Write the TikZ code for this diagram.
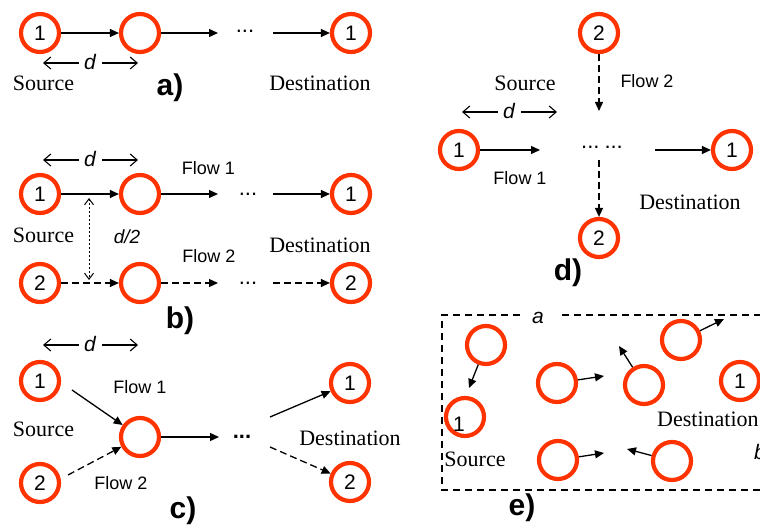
\documentclass[tikz,border=0pt]{standalone}
\usepackage{fontspec}
\setmainfont{Liberation Serif}
\newfontfamily\sansf{Liberation Sans}
\usetikzlibrary{arrows.meta}

\definecolor{nodered}{RGB}{255,51,0}
\newcommand\numfnt{\sansf\fontsize{21}{21}\selectfont}
\newcommand\sansfnt{\sansf\fontsize{18}{18}\selectfont}
\newcommand\dimfnt{\sansf\itshape\fontsize{21}{21}\selectfont}
\newcommand\dotfnt{\sansf\fontsize{22}{22}\selectfont}
\newcommand\serfnt{\rmfamily\fontsize{22}{22}\selectfont}
\newcommand\lblfnt{\sansf\bfseries\fontsize{30}{30}\selectfont}

\tikzset{
  nd/.style={circle, draw=nodered, line width=4.2pt, minimum size=38pt, inner sep=0pt, font=\numfnt},
  flow/.style={line width=1.3pt, -{Triangle[length=9pt,width=8pt]}},
  flowdash/.style={flow, dash pattern=on 7pt off 4pt},
  dimarr/.style={line width=1.1pt, -{Straight Barb[length=7pt,width=12pt]}},
  gapmark/.style={line width=1pt, dash pattern=on 2pt off 2pt,
    {Straight Barb[length=6pt,width=9pt]}-{Straight Barb[length=6pt,width=9pt]}},
  sanstext/.style={inner sep=0pt, font=\sansfnt},
  dimtext/.style={inner sep=0pt, font=\dimfnt},
  sertext/.style={inner sep=0pt, font=\serfnt},
  paneltag/.style={inner sep=0pt, font=\lblfnt},
  dotstext/.style={inner sep=0pt, anchor=base, font=\dotfnt},
  area/.style={line width=1.8pt, dash pattern=on 7pt off 5pt},
}

\begin{document}
\begin{tikzpicture}[x=1pt,y=-1pt]
\useasboundingbox (0,0) rectangle (760,529);
\clip (0,0) rectangle (760,529);

% ---------- a) single chain ----------
\node[nd] (a1) at (40,33) {1};
\node[nd] (a2) at (140,33) {};
\node[nd] (a3) at (351,33) {1};
\node[dotstext] (adots) at (245,33) {...};
\coordinate (aL) at (218,33);
\coordinate (aR) at (273,33);
\draw[flow] (a1) -- (a2);
\draw[flow] (a2) -- (aL);
\draw[flow] (aR) -- (a3);
\node[dimtext] (ad) at (90,62) {d};
\coordinate (adl) at (43,63);
\coordinate (adr) at (138,63);
\draw[dimarr] (ad.west) ++(-5,1) coordinate (adl0) (adl0) -- (adl);
\draw[dimarr] (ad.east) ++(6,1) coordinate (adr0) (adr0) -- (adr);
\node[sertext] (asrc) at (43.5,83) {Source};
\node[sertext] (adst) at (320,83) {Destination};
\node[paneltag] (atag) at (170,88) {a)};

% ---------- b) two parallel chains ----------
\node[dimtext] (bd) at (90,159) {d};
\coordinate (bdl) at (43,160);
\coordinate (bdr) at (138,160);
\draw[dimarr] (bd.west) ++(-5,1) coordinate (bdl0) (bdl0) -- (bdl);
\draw[dimarr] (bd.east) ++(6,1) coordinate (bdr0) (bdr0) -- (bdr);
\node[nd] (b11) at (40,194) {1};
\node[nd] (b12) at (140,194) {};
\node[nd] (b13) at (351,194) {1};
\node[nd] (b21) at (40,283) {2};
\node[nd] (b22) at (140,283) {};
\node[nd] (b23) at (351,283) {2};
\node[dotstext] (bdots1) at (248,196) {...};
\node[dotstext] (bdots2) at (248,285) {...};
\coordinate (b1L) at (218,194);
\coordinate (b1R) at (273,194);
\coordinate (b2L) at (218,283);
\coordinate (b2R) at (273,283);
\draw[flow] (b11) -- (b12);
\draw[flow] (b12) -- (b1L);
\draw[flow] (b1R) -- (b13);
\draw[flowdash] (b21) -- (b22);
\draw[flowdash] (b22) -- (b2L);
\draw[flowdash] (b2R) -- (b23);
\coordinate (bgt) at (89,198);
\coordinate (bgb) at (89,280);
\draw[gapmark] (bgt) -- (bgb);
\node[dimtext, font=\sansf\itshape\fontsize{19}{19}\selectfont] (bhalf) at (127,237) {d/2};
\node[sertext] (bsrc) at (43.5,235) {Source};
\node[sertext] (bdst) at (320,245) {Destination};
\node[sanstext] (bf1) at (208.5,168) {Flow 1};
\node[sanstext] (bf2) at (209,256) {Flow 2};
\node[paneltag] (btag) at (180,321) {b)};

% ---------- c) two flows merging ----------
\node[dimtext] (cd) at (90,344) {d};
\coordinate (cdl) at (43,345);
\coordinate (cdr) at (138,345);
\draw[dimarr] (cd.west) ++(-5,1) coordinate (cdl0) (cdl0) -- (cdl);
\draw[dimarr] (cd.east) ++(6,1) coordinate (cdr0) (cdr0) -- (cdr);
\node[nd] (c1) at (40,381) {1};
\node[nd] (c2) at (40,483) {2};
\node[nd] (cm) at (140,437) {};
\node[nd] (cd1) at (350,383) {1};
\node[nd] (cd2) at (350,482) {2};
\node[dotstext, font=\dotfnt\bfseries] (cdots) at (242,438) {...};
\coordinate (cin1) at (72,390);
\coordinate (cin2) at (68,475);
\coordinate (cmL) at (219,437);
\coordinate (co1) at (270,417);
\coordinate (co2) at (270,447);
\draw[flow] (cin1) -- (cm);
\draw[flowdash] (cin2) -- (cm);
\draw[flow] (cm) -- (cmL);
\draw[flow] (co1) -- (cd1);
\draw[flowdash] (co2) -- (cd2);
\node[sanstext] (cf1) at (140,387) {Flow 1};
\node[sanstext] (cf2) at (121,483) {Flow 2};
\node[sertext] (csrc) at (43.5,429) {Source};
\node[sertext] (cdst) at (350,438) {Destination};
\node[paneltag] (ctag) at (183,511) {c)};

% ---------- d) crossing flows ----------
\node[nd] (dt) at (599,33) {2};
\node[nd] (db) at (599,238) {2};
\node[nd] (dl) at (459,150) {1};
\node[nd] (dr) at (732,150) {1};
\node[dotstext] (ddots) at (602,149) {...\hspace{5pt}...};
\coordinate (dtB) at (599,111);
\coordinate (dbT) at (599,160);
\coordinate (dlE) at (540,150);
\coordinate (drW) at (655,150);
\draw[flowdash] (dt) -- (dtB);
\draw[flowdash] (dbT) -- (db);
\draw[flow] (dl) -- (dlE);
\draw[flow] (drW) -- (dr);
\node[dimtext] (dd) at (509,111) {d};
\coordinate (ddl) at (462,112);
\coordinate (ddr) at (557,112);
\draw[dimarr] (dd.west) ++(-5,1) coordinate (ddl0) (ddl0) -- (ddl);
\draw[dimarr] (dd.east) ++(6,1) coordinate (ddr0) (ddr0) -- (ddr);
\node[sertext] (dsrc) at (525,83) {Source};
\node[sertext] (ddst) at (690,202) {Destination};
\node[sanstext] (df2) at (647,81) {Flow 2};
\node[sanstext] (df1) at (520,178) {Flow 1};
\node[paneltag] (dtag) at (568,273) {d)};

% ---------- e) random placement in an a x b area ----------
\draw[area] (520,315) -- (442,315) -- (442,490) -- (775,490);
\draw[area] (562,315) -- (775,315);
\node[dimtext] (ea) at (538,318) {a};
\node[dimtext, anchor=west] (eb) at (754,452) {b};
\node[nd] (e1) at (486,345) {};
\node[nd] (e2) at (465,417) {};
\node[sanstext, font=\numfnt] (e2n) at (459,424) {1};
\node[nd] (e3) at (557,383) {};
\node[nd] (e4) at (644,385) {};
\node[nd] (e5) at (681,340) {};
\node[nd] (e6) at (740,381) {1};
\node[nd] (e7) at (558,460) {};
\node[nd] (e8) at (672,461) {};
\coordinate (e1t) at (469,388);
\coordinate (e3t) at (604,376);
\coordinate (e4t) at (619,346);
\coordinate (e5t) at (724,319);
\coordinate (e7t) at (604,453);
\coordinate (e8t) at (627,449);
\draw[flow] (e1) -- (e1t);
\draw[flow] (e3) -- (e3t);
\draw[flow] (e4) -- (e4t);
\draw[flow] (e5) -- (e5t);
\draw[flow] (e7) -- (e7t);
\draw[flow] (e8) -- (e8t);
\node[sertext, anchor=west] (edst) at (657,419) {Destination};
\node[sertext] (esrc) at (475,459) {Source};
\node[paneltag] (etag) at (522,508) {e)};
\end{tikzpicture}
\end{document}
